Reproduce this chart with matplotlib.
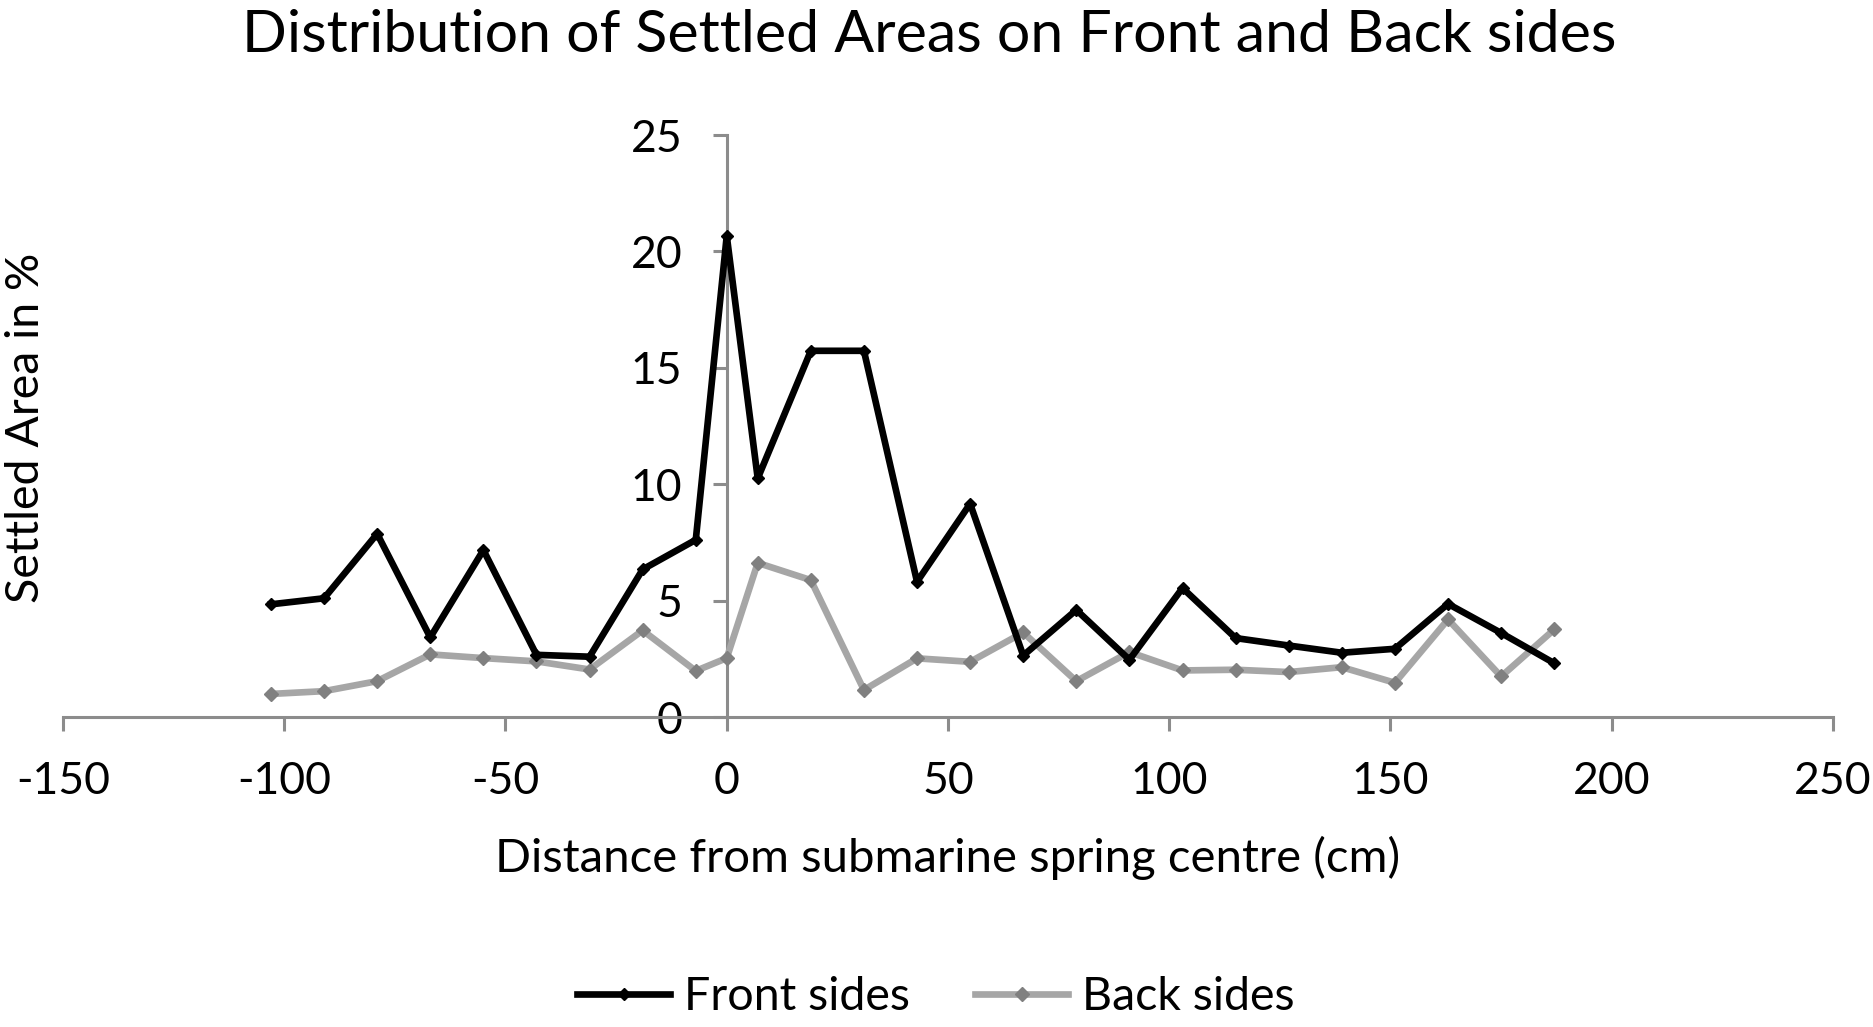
import matplotlib
matplotlib.use("Agg")
import matplotlib.pyplot as plt

plt.rcParams['font.family'] = ['Lato', 'DejaVu Sans']
plt.rcParams['axes.unicode_minus'] = False

distance = [-103, -91, -79, -67, -55, -43, -31, -19, -7, 0, 7, 19, 31, 43, 55, 67,
            79, 91, 103, 115, 127, 139, 151, 163, 175, 187]
front_sides = [4.84, 5.10, 7.87, 3.42, 7.17, 2.67, 2.59, 6.34, 7.61, 20.67, 10.25, 15.73, 15.73,
               5.81, 9.16, 2.64, 4.60, 2.46, 5.54, 3.39, 3.07, 2.76, 2.93, 4.86, 3.61, 2.31]
back_sides = [0.99, 1.11, 1.54, 2.69, 2.53, 2.39, 2.04, 3.72, 1.98, 2.53, 6.62, 5.88, 1.16,
              2.52, 2.37, 3.63, 1.54, 2.79, 2.00, 2.03, 1.93, 2.14, 1.47, 4.19, 1.74, 3.76]
x_ticks = [-150, -100, -50, 0, 50, 100, 150, 200, 250]
y_ticks = [0, 5, 10, 15, 20, 25]

W, H = 1874, 1027
fig = plt.figure(figsize=(W / 100, H / 100), dpi=100)
ax = fig.add_axes([63 / W, 1 - 717 / H, (1833 - 63) / W, (717 - 135) / H])

axis_col = '#8c8c8c'
ax.plot(distance, back_sides, color='#a6a6a6', lw=4.8, marker='D', ms=7,
        mfc='#808080', mec='#808080', label='Back sides', zorder=3)
ax.plot(distance, front_sides, color='black', lw=4.8, marker='D', ms=6.5,
        mfc='black', mec='black', label='Front sides', zorder=4)

ax.set_xlim(-150, 250)
ax.set_ylim(0, 25)
ax.set_xticks(x_ticks)
ax.set_yticks(y_ticks)

for s in ['top', 'right']:
    ax.spines[s].set_visible(False)
ax.spines['left'].set_position(('data', 0))
ax.spines['bottom'].set_position(('data', 0))
for s in ['left', 'bottom']:
    ax.spines[s].set_color(axis_col)
    ax.spines[s].set_linewidth(2.2)
ax.tick_params(axis='both', direction='out', length=10, width=2.2, color=axis_col,
               labelsize=32, labelcolor='black')
ax.tick_params(axis='x', pad=22)
ax.tick_params(axis='y', pad=22)

fig.text(929 / W, 1 - 36 / H, 'Distribution of Settled Areas on Front and Back sides',
         ha='center', va='center', fontsize=42.5)
fig.text(948 / W, 1 - 858 / H, 'Distance from submarine spring centre (cm)',
         ha='center', va='center', fontsize=34)
fig.text(26 / W, 1 - 428 / H, 'Settled Area in %', ha='center', va='center',
         rotation=90, fontsize=33.5)

h, l = ax.get_legend_handles_labels()
fig.legend([h[1], h[0]], [l[1], l[0]], loc='center', bbox_to_anchor=(936 / W, 1 - 997 / H),
           ncol=2, frameon=False, fontsize=33.5, handlelength=2.0, columnspacing=1.4,
           handletextpad=0.3)

fig.savefig('out.png', dpi=100)
